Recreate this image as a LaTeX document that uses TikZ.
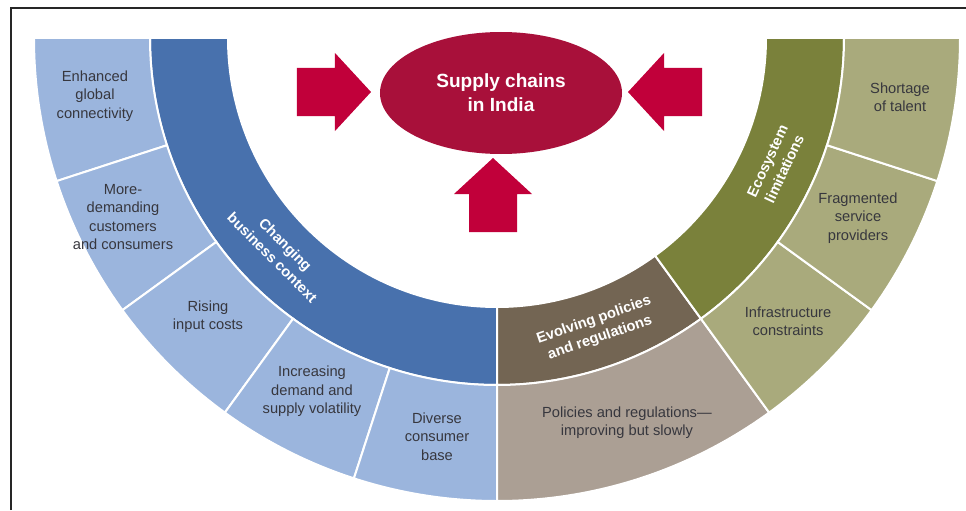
\documentclass[tikz,border=0pt]{standalone}
\usepackage{fontspec}
\setmainfont{Liberation Sans}
\usetikzlibrary{shapes.geometric,positioning}
\definecolor{bizblue}{RGB}{72,113,173}
\definecolor{bizlight}{RGB}{155,181,221}
\definecolor{polbrown}{RGB}{115,101,83}
\definecolor{pollight}{RGB}{171,159,148}
\definecolor{ecoolive}{RGB}{122,129,59}
\definecolor{ecolight}{RGB}{169,170,124}
\definecolor{hubred}{RGB}{168,16,58}
\definecolor{arrowred}{RGB}{193,0,58}
\definecolor{labelgrey}{RGB}{55,55,62}

% one piece of the ring: fill, from angle, to angle, inner, outer radius
\newcommand{\ringpart}[5]{%
  \fill[#1, draw=white, line width=1.5pt]
    (#2:#4) arc[start angle=#2, end angle=#3, radius=#4]
    -- (#3:#5) arc[start angle=#3, end angle=#2, radius=#5] -- cycle;}

\tikzset{
  outerlabel/.style={font=\fontsize{11}{13.8}\selectfont, text=labelgrey,
                     align=center, inner sep=0pt},
  ringlabel/.style={font=\fontsize{11}{14}\selectfont\bfseries, text=white,
                    align=center, inner sep=0pt}
}

\begin{document}
\begin{tikzpicture}[x=0.75pt, y=0.75pt]
    \useasboundingbox (-497,-472) rectangle (469,38);
    % frame
    \draw[black!85, line width=0.8pt] (-486,-472) -- (-486,30) -- (469,30);

    % inner ring
    \ringpart{bizblue}{180}{270}{269}{347}
    \ringpart{polbrown}{270}{306}{269}{347}
    \ringpart{ecoolive}{306}{360}{269}{347}
    % outer ring
    \foreach \a in {180,198,216,234,252}{
      \pgfmathsetmacro{\b}{\a+18}
      \ringpart{bizlight}{\a}{\b}{347}{463}
    }
    \ringpart{pollight}{270}{306}{347}{463}
    \foreach \a in {306,324,342}{
      \pgfmathsetmacro{\b}{\a+18}
      \ringpart{ecolight}{\a}{\b}{347}{463}
    }

    % hub and arrows
    \node[ellipse, fill=hubred, inner sep=0pt,
          minimum width=181.5pt, minimum height=91.5pt,
          font=\fontsize{14.3}{18}\selectfont\bfseries, text=white, align=center]
      (hub) at (4,-55) {Supply chains\\in India};
    \foreach \tx/\ty/\rot in {-126/-54/0, 131/-54/180, -4/-120/90}{
      \fill[arrowred, shift={(\tx,\ty)}, rotate=\rot]
        (0,0) -- (-36,39) -- (-36,24) -- (-74,24)
        -- (-74,-24) -- (-36,-24) -- (-36,-39) -- cycle;
    }

    % ring titles
    \node[ringlabel, rotate=-45] (bizctx) at (-218,-213) {Changing\\business context};
    \node[ringlabel, rotate=19] (policy) at (100,-291) {Evolving policies\\and regulations};
    \node[ringlabel, rotate=65] (ecosys) at (279,-127) {Ecosystem\\limitations};

    % outer labels
    \node[outerlabel] (connect) at (-402,-58) {Enhanced\\global\\connectivity};
    \node[outerlabel] (demand) at (-374,-179) {More-\\demanding\\customers\\and consumers};
    \node[outerlabel] (costs) at (-289,-279) {Rising\\input costs};
    \node[outerlabel] (volat) at (-185,-353.5) {Increasing\\demand and\\supply volatility};
    \node[outerlabel] (diverse) at (-60,-398.5) {Diverse\\consumer\\base};
    \node[outerlabel] (slowly) at (130,-385) {Policies and regulations—\\improving but slowly};
    \node[outerlabel] (infra) at (291,-283) {Infrastructure\\constraints};
    \node[outerlabel] (fragm) at (361,-180) {Fragmented\\service\\providers};
    \node[outerlabel] (talent) at (403,-59.5) {Shortage\\of talent};
\end{tikzpicture}
\end{document}
